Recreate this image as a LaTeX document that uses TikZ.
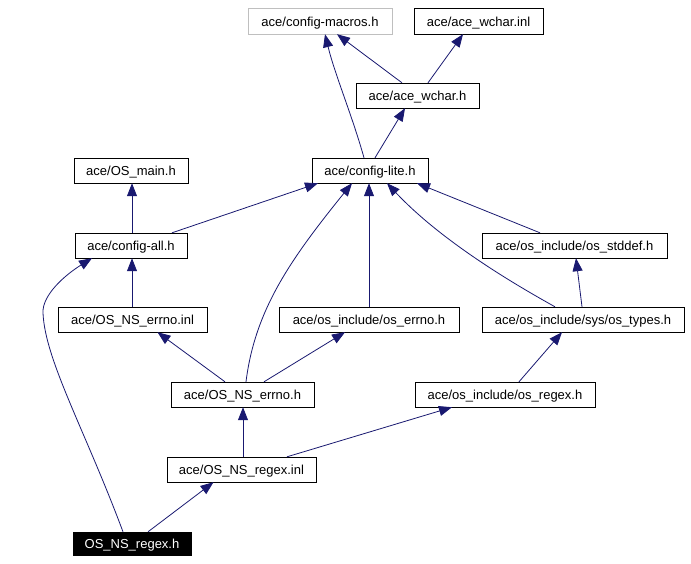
\documentclass[tikz,border=0pt]{standalone}
\usepackage{fontspec}
\setmainfont{Liberation Sans}
\usetikzlibrary{arrows.meta}

\definecolor{edgeblue}{HTML}{191970}
\definecolor{boxgray}{HTML}{BFBFBF}

\tikzset{
    file/.style={draw, fill=white, minimum height=25pt, inner sep=0pt,
        font=\fontsize{13}{15}\selectfont, text height=10.5pt, text depth=0pt},
    dep/.style={draw=edgeblue, line width=0.8pt,
        -{Triangle[length=13pt,width=10pt,fill=edgeblue]}}
}

\begin{document}
\begin{tikzpicture}[x=1pt,y=-1pt]
    \useasboundingbox (0,0) rectangle (691,563);

    %draw nodes
    \node[file, draw=boxgray, minimum width=144pt, minimum height=26pt] (macros) at (320,21) {ace/config-macros.h};
    \node[file, minimum width=129pt, minimum height=26pt] (wcharinl) at (478.5,21) {ace/ace\_wchar.inl};
    \node[file, minimum width=123pt] (wchar) at (417.5,95.5) {ace/ace\_wchar.h};
    \node[file, minimum width=114pt] (osmain) at (131,170.5) {ace/OS\_main.h};
    \node[file, minimum width=116pt] (lite) at (370,170.5) {ace/config-lite.h};
    \node[file, minimum width=112pt] (all) at (131,245.5) {ace/config-all.h};
    \node[file, minimum width=185pt] (stddef) at (574.5,245.5) {ace/os\_include/os\_stddef.h};
    \node[file, minimum width=149pt] (errnoinl) at (132.5,319.5) {ace/OS\_NS\_errno.inl};
    \node[file, minimum width=180pt] (oserrno) at (369,319.5) {ace/os\_include/os\_errno.h};
    \node[file, minimum width=202pt] (types) at (583,319.5) {ace/os\_include/sys/os\_types.h};
    \node[file, minimum width=143pt] (errnoh) at (242.5,394.5) {ace/OS\_NS\_errno.h};
    \node[file, minimum width=180pt] (osregex) at (505,394.5) {ace/os\_include/os\_regex.h};
    \node[file, minimum width=149pt] (regexinl) at (241.5,469.5) {ace/OS\_NS\_regex.inl};
    \node[file, fill=black, text=white, minimum width=118pt, minimum height=23pt] (regexh) at (132,543.5) {OS\_NS\_regex.h};

    %draw edges, from includer to included file
    \draw[dep] ([xshift=-6pt]lite.north) .. controls (352,115) and (335,75) .. ([xshift=5pt]macros.south);
    \draw[dep] ([xshift=-15.5pt]wchar.north) -- ([xshift=17pt]macros.south);
    \draw[dep] ([xshift=10.5pt]wchar.north) -- ([xshift=-15.5pt]wcharinl.south);
    \draw[dep] ([xshift=5pt]lite.north) -- ([xshift=-12.5pt]wchar.south);
    \draw[dep] ([xshift=1pt]all.north) -- ([xshift=1pt]osmain.south);
    \draw[dep] ([xshift=41pt]all.north) -- ([xshift=-52pt]lite.south);
    \draw[dep] ([xshift=3.5pt]errnoh.north) .. controls (255,310) and (290,260) .. ([xshift=-18pt]lite.south);
    \draw[dep] (oserrno) -- ([xshift=-1pt]lite.south);
    \draw[dep] ([xshift=-28pt]types.north) .. controls (525,290) and (445,245) .. ([xshift=17pt]lite.south);
    \draw[dep] ([xshift=-34.5pt]stddef.north) -- ([xshift=47pt]lite.south);
    \draw[dep] ([xshift=-1pt]types.north) -- ([xshift=1.5pt]stddef.south);
    \draw[dep] ([xshift=-0.5pt]errnoinl.north) -- ([xshift=1pt]all.south);
    \draw[dep] ([xshift=-9pt]regexh.north) .. controls (85,430) and (45,360) .. (43,313)
        .. controls (42,295) and (65,275) .. ([xshift=-39pt]all.south);
    \draw[dep] ([xshift=-17.5pt]errnoh.north) -- ([xshift=25pt]errnoinl.south);
    \draw[dep] ([xshift=21.5pt]errnoh.north) -- ([xshift=-24pt]oserrno.south);
    \draw[dep] ([xshift=14pt]osregex.north) -- ([xshift=-21pt]types.south);
    \draw[dep] ([xshift=1.5pt]regexinl.north) -- ([xshift=0.5pt]errnoh.south);
    \draw[dep] ([xshift=45.5pt]regexinl.north) -- ([xshift=-53pt]osregex.south);
    \draw[dep] ([xshift=16pt]regexh.north) -- ([xshift=-28pt]regexinl.south);

\end{tikzpicture}
\end{document}
